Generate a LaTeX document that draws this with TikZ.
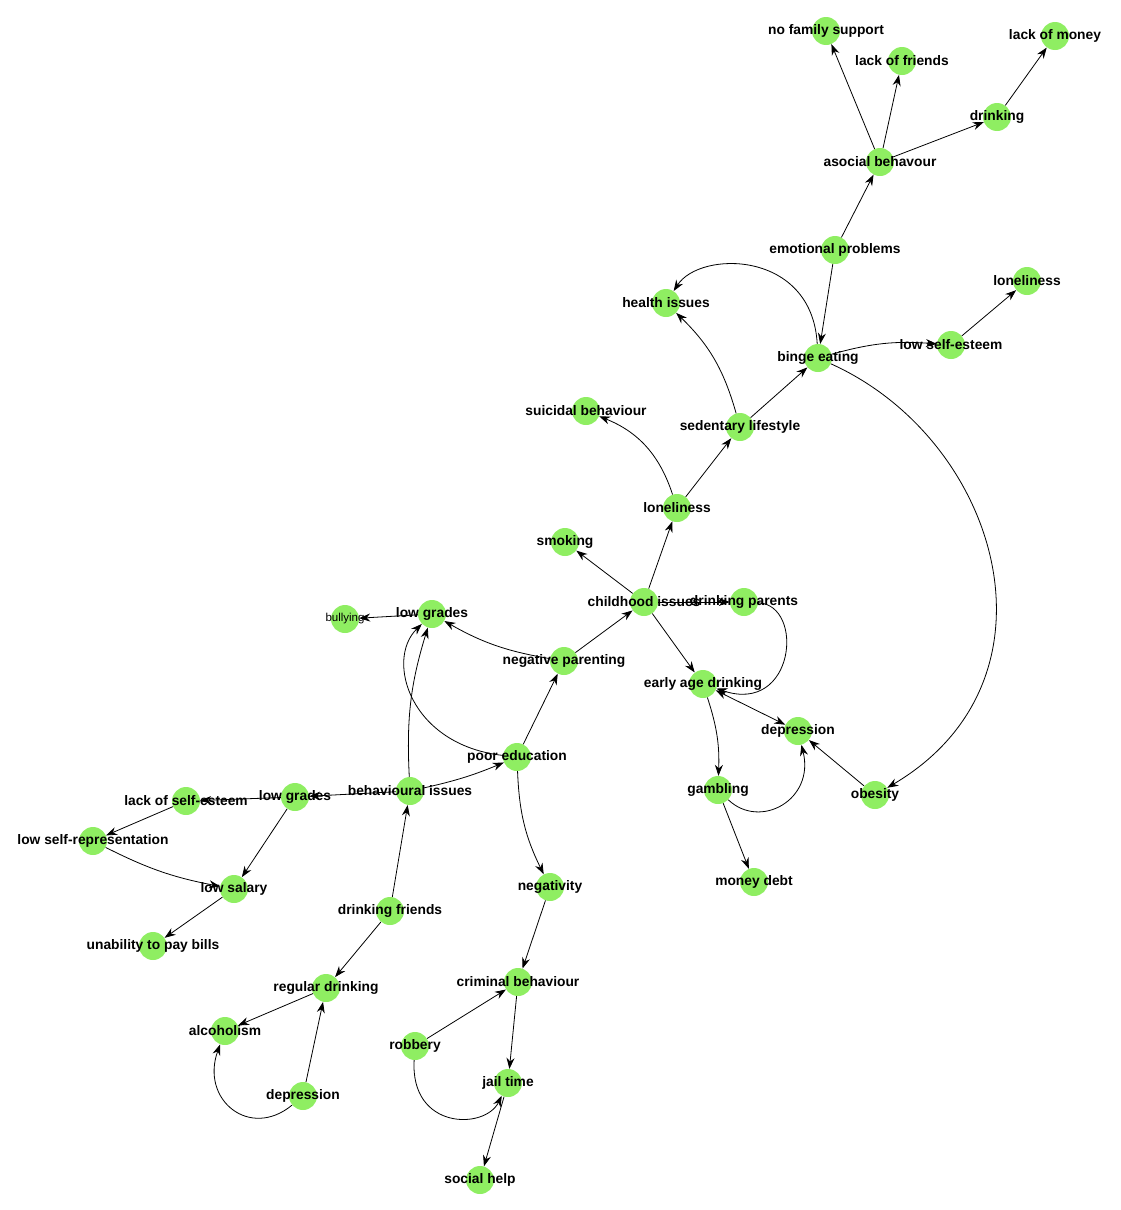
\documentclass[tikz,border=0pt]{standalone}
\usepackage{fontspec}
\setmainfont{Liberation Sans}
\usepackage{xcolor}
\usetikzlibrary{arrows.meta}
\definecolor{nodegreen}{HTML}{8FEE62}
\tikzset{
  dot/.style={circle, fill=nodegreen, draw=none, minimum size=28pt, inner sep=0pt},
  arr/.style={draw=black, line width=0.8pt, -{Stealth[length=11pt,width=8pt]}},
  both/.style={draw=black, line width=0.8pt, {Stealth[length=11pt,width=8pt]}-{Stealth[length=11pt,width=8pt]}},
  lab/.style={font=\bfseries\fontsize{13.8}{16}\selectfont, inner sep=0pt},
  labs/.style={font=\fontsize{11.5}{13}\selectfont, inner sep=0pt},
}

\begin{document}
\begin{tikzpicture}[x=1pt,y=1pt]
  \useasboundingbox (0,0) rectangle (1121,-1210);

  % nodes
  \foreach \n/\x/\y in {nfs/826/31, lof/902/61, lom/1055/36, dri/997/117, aso/880/162,
      emo/835/250, lon2/1027/281, hea/666/303, lse/951/345, bin/818/358,
      sui/586/411, sed/740/427, lon/677/508, smo/565/542, chi/644/602,
      dpa/744/602, bul/345/619, lgr/432/614, neg/564/661, ead/703/684,
      dep/798/731, poo/517/757, gam/718/790, obe/875/795, lose/186/801,
      lgr2/295/797, beh/410/791, lsr/93/841, lsa/234/889, mon/754/882,
      ngt/550/887, dfr/390/911, unp/153/946, reg/326/988, cri/518/982,
      alc/225/1031, rob/415/1046, dep2/303/1096, jai/508/1083, soc/480/1180}
    \node[dot] (\n) at (\x,-\y) {};

  % top part
  \draw[arr] (aso) -- (nfs);
  \draw[arr] (aso) -- (lof);
  \draw[arr] (aso) -- (dri);
  \draw[arr] (dri) -- (lom);
  \draw[arr] (emo) -- (aso);
  \draw[arr] (emo) -- (bin);
  \draw[arr] (bin) .. controls (812,-250) and (700,-250) .. (hea);
  \draw[arr] (sed) to[bend right=15] (hea);
  \draw[arr] (sed) -- (bin);
  \draw[arr] (bin) to[bend left=10] (lse);
  \draw[arr] (lse) -- (lon2);
  \draw[arr] (bin) .. controls (1000,-440) and (1070,-680) .. (obe);
  \draw[arr] (lon) -- (sed);
  \draw[arr] (lon) to[bend right=25] (sui);

  % middle
  \draw[arr] (chi) -- (lon);
  \draw[arr] (chi) -- (smo);
  \draw[arr] (chi) -- (dpa);
  \draw[arr] (chi) -- (ead);
  \draw[arr] (dpa) .. controls (805,-605) and (795,-715) .. (ead);
  \draw[arr] (neg) -- (chi);
  \draw[arr] (neg) to[bend left=10] (lgr);
  \draw[arr] (poo) -- (neg);
  \draw[both] (ead) -- (dep);
  \draw[arr] (ead) to[bend left=10] (gam);
  \draw[arr] (gam) .. controls (760,-830) and (815,-800) .. (dep);
  \draw[arr] (obe) -- (dep);
  \draw[arr] (gam) -- (mon);

  % left part
  \draw[arr] (lgr) -- (bul);
  \draw[arr] (beh) to[bend left=10] (lgr);
  \draw[arr] (poo) .. controls (410,-745) and (385,-660) .. (lgr);
  \draw[arr] (beh) to[bend right=5] (poo);
  \draw[arr] (beh) -- (lgr2);
  \draw[arr] (lgr2) -- (lose);
  \draw[arr] (lgr2) -- (lsa);
  \draw[arr] (lose) -- (lsr);
  \draw[arr] (lsr) to[bend right=8] (lsa);
  \draw[arr] (lsa) -- (unp);
  \draw[arr] (dfr) -- (beh);
  \draw[arr] (dfr) -- (reg);
  \draw[arr] (reg) -- (alc);
  \draw[arr] (dep2) -- (reg);
  \draw[arr] (dep2) .. controls (250,-1140) and (200,-1100) .. (alc);

  % bottom part
  \draw[arr] (poo) to[bend right=12] (ngt);
  \draw[arr] (ngt) -- (cri);
  \draw[arr] (rob) -- (cri);
  \draw[arr] (cri) -- (jai);
  \draw[arr] (rob) .. controls (410,-1130) and (485,-1130) .. (jai);
  \draw[arr] (jai) -- (soc);

  % labels
  \foreach \n/\t in {nfs/no family support, lof/lack of friends, lom/lack of money,
      dri/drinking, aso/asocial behavour, emo/emotional problems, lon2/loneliness,
      hea/health issues, lse/low self-esteem, bin/binge eating,
      sui/suicidal behaviour, sed/sedentary lifestyle, lon/loneliness,
      smo/smoking, chi/childhood issues, dpa/drinking parents, lgr/low grades,
      neg/negative parenting, ead/early age drinking, dep/depression,
      poo/poor education, gam/gambling, obe/obesity, lose/lack of self-esteem,
      lgr2/low grades, beh/behavioural issues, lsr/low self-representation,
      lsa/low salary, mon/money debt, ngt/negativity, dfr/drinking friends,
      unp/unability to pay bills, reg/regular drinking, cri/criminal behaviour,
      alc/alcoholism, rob/robbery, dep2/depression, jai/jail time, soc/social help}
    \node[lab] (\n-t) at (\n) {\t};
  \node[labs] (bul-t) at (bul) {bullying};
\end{tikzpicture}
\end{document}
